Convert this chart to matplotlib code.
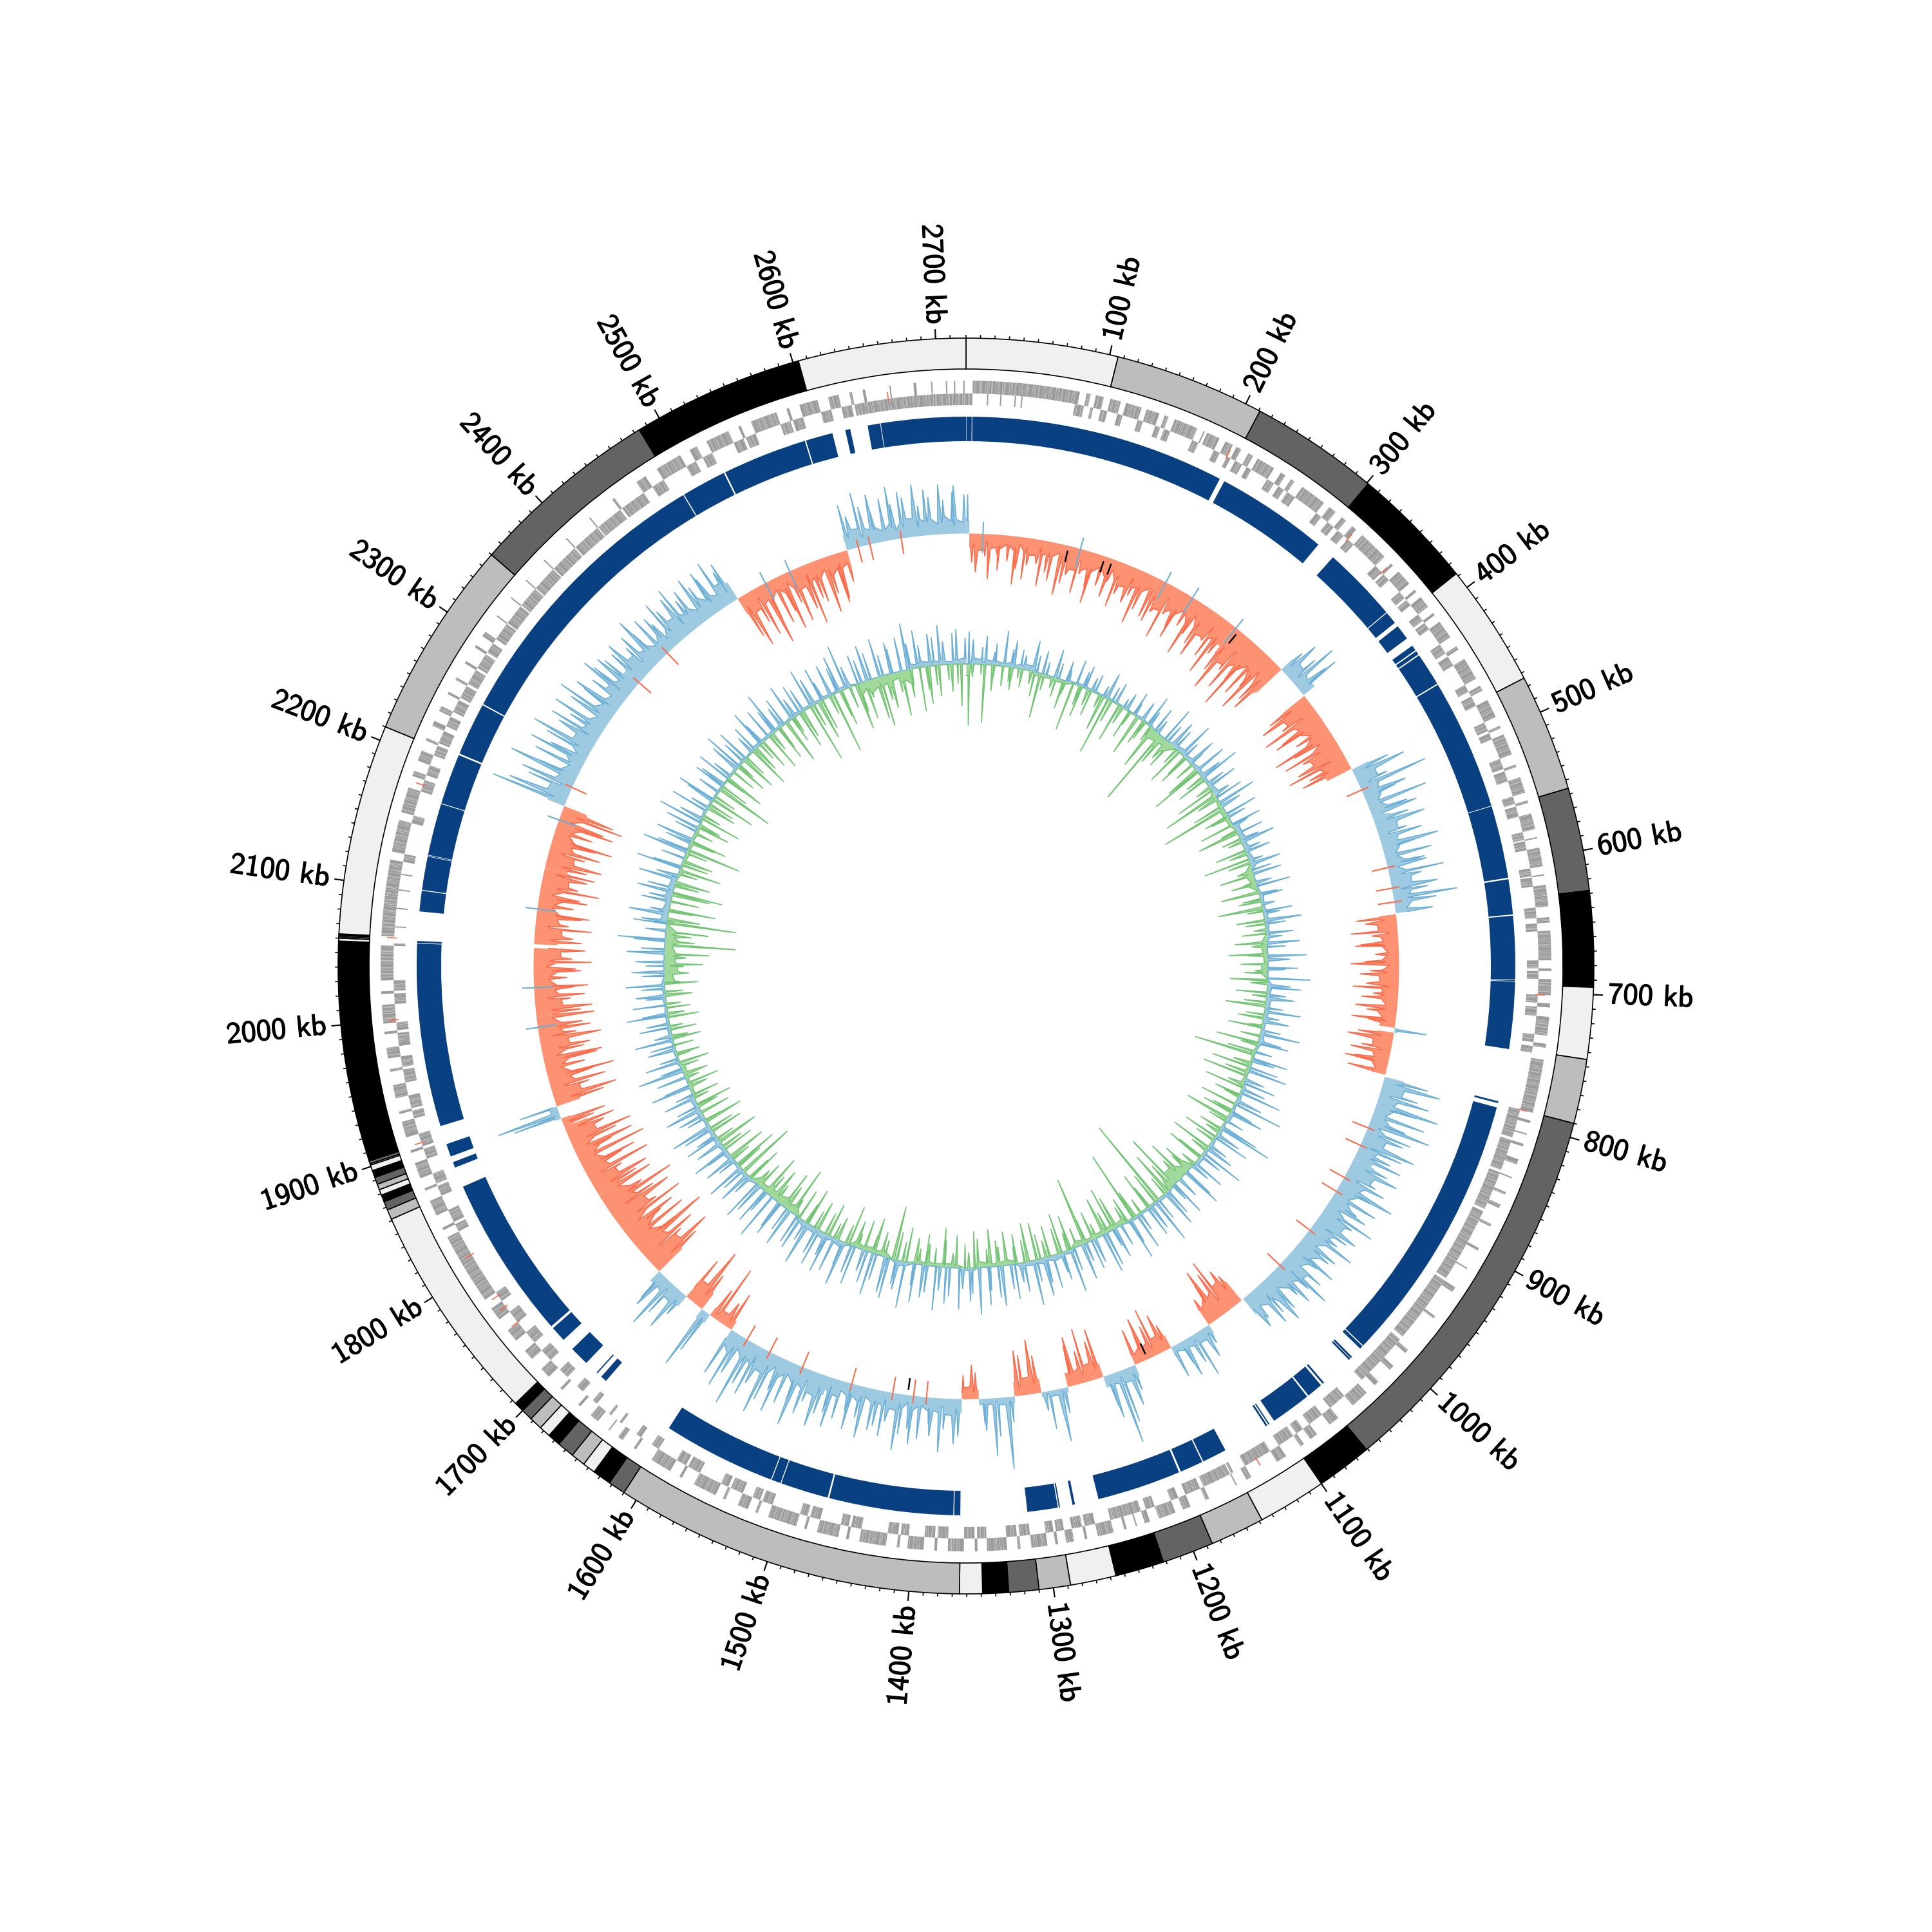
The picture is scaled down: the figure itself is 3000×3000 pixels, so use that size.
#!/usr/bin/env python3

import matplotlib

matplotlib.use("Agg")
import matplotlib.patheffects as pe
import matplotlib.pyplot as plt
import numpy as np

GENOME_KB = 2721.0

ring_edges = [0, 106, 211, 301, 388, 474, 556, 628, 695, 745, 790, 1061, 1100, 1148, 1186, 1222,
              1256, 1288, 1310, 1331, 1349, 1365, 1610, 1622, 1635, 1644, 1654, 1666, 1675, 1683,
              1692, 1700, 1707, 1861, 1868, 1874, 1879, 1883, 1887, 1892, 1897, 1901, 1902, 1904,
              2058, 2060, 2061, 2062, 2063, 2210, 2350, 2484, 2604, 2721]
ring_colors = ["#f0f0f0", "#bdbdbd", "#636363", "#000000"]

block_start = [0.3, 5, 212, 316.8, 378, 391.5, 410.6, 416, 420, 447.5, 552.5, 611.5, 640.5, 691.5,
               692.5, 788, 793, 1011.3, 1023, 1025, 1053, 1056.2, 1070.3, 1107, 1109, 1147.5, 1168,
               1188, 1274, 1286, 1287.8, 1365, 1370.5, 1470.8, 1509.7, 1517.7, 1670, 1679, 1691,
               1716.5, 1731, 1878, 1887.4, 1912.7, 2059, 2083.9, 2101, 2128, 2129, 2171, 2212.7,
               2256, 2487.6, 2524.5, 2593, 2625, 2643, 2653.5]
block_end = [4.5, 208, 301.6, 377.3, 388, 403.6, 415, 419, 446.5, 552, 610.3, 639.5, 691, 692, 746,
             789.5, 1010.5, 1014, 1024.5, 1026.5, 1054.5, 1069, 1102.6, 1108, 1110.5, 1167, 1186.5,
             1255, 1276, 1287, 1312, 1369.8, 1469.5, 1509, 1517, 1608, 1675, 1680, 1706.6, 1729,
             1861.7, 1882.6, 1897.7, 2058.5, 2060.5, 2100.3, 2127.6, 2128.6, 2170.4, 2211.4, 2255,
             2486.8, 2523.3, 2592, 2614.6, 2629, 2653, 2721]

outer_genes = [(5, 85), (90, 93), (97, 103), (108, 116), (120, 132), (136, 146), (150, 153), (158, 176),
               (181, 182), (184, 194), (199, 205), (208, 212), (218, 222), (226, 240), (246, 250),
               (255, 258), (265, 285), (290, 296), (302, 306), (312, 316), (322, 345), (352, 354),
               (360, 372), (378, 380), (385, 394), (400, 402), (408, 422), (430, 433), (441, 458),
               (464, 468), (476, 490), (497, 499), (504, 520), (528, 530), (538, 550), (556, 558),
               (566, 578), (584, 585), (592, 606), (612, 613), (620, 636), (644, 648), (654, 676),
               (682, 684), (690, 702), (708, 711), (718, 732), (738, 741), (750, 790), (796, 798),
               (806, 807), (814, 816), (826, 830), (840, 841), (852, 854), (862, 865), (878, 880),
               (898, 900), (915, 916), (932, 936), (958, 960), (990, 993), (1006, 1010), (1022, 1026),
               (1034, 1048), (1062, 1070), (1082, 1088), (1094, 1097), (1110, 1118), (1140, 1144),
               (1152, 1153), (1175, 1178), (1190, 1196), (1202, 1215), (1222, 1226), (1232, 1233),
               (1240, 1242), (1250, 1262), (1270, 1272), (1280, 1286), (1292, 1294), (1300, 1312),
               (1320, 1322), (1330, 1345), (1352, 1354), (1362, 1374), (1382, 1384), (1392, 1404),
               (1410, 1412), (1420, 1440), (1448, 1450), (1456, 1472), (1480, 1482), (1488, 1510),
               (1518, 1520), (1526, 1534), (1544, 1546), (1552, 1570), (1580, 1582), (1590, 1606),
               (1620, 1622), (1632, 1636), (1644, 1645), (1655, 1662), (1672, 1674), (1690, 1692),
               (1704, 1712), (1722, 1730), (1740, 1750), (1760, 1770), (1778, 1832), (1838, 1840),
               (1850, 1862), (1870, 1872), (1880, 1892), (1900, 1902), (1912, 1924), (1930, 1932),
               (1942, 1952), (1962, 1964), (1972, 1980), (1990, 1992), (1998, 2012), (2020, 2022),
               (2030, 2056), (2063, 2120), (2126, 2150), (2156, 2175), (2184, 2188), (2196, 2204),
               (2212, 2214), (2224, 2228), (2236, 2240), (2250, 2252), (2262, 2264), (2276, 2278),
               (2290, 2292), (2300, 2304), (2318, 2319), (2335, 2336), (2352, 2353), (2372, 2373),
               (2395, 2396), (2418, 2419), (2440, 2442), (2462, 2470), (2480, 2500), (2508, 2514),
               (2522, 2540), (2548, 2550), (2558, 2578), (2586, 2588), (2596, 2610), (2618, 2626),
               (2634, 2636), (2644, 2646), (2664, 2665), (2682, 2684), (2695, 2696), (2706, 2707),
               (2712, 2713), (2719, 2720)]
inner_genes = [(0, 5), (16, 17), (26, 27), (37, 38), (42, 43), (83, 90), (95, 97), (103, 108),
               (116, 120), (132, 136), (146, 150), (153, 158), (176, 181), (194, 199), (205, 208),
               (212, 218), (222, 226), (240, 246), (250, 255), (258, 265), (285, 290), (296, 302),
               (306, 312), (316, 322), (345, 352), (354, 360), (372, 378), (380, 385), (394, 400),
               (402, 408), (422, 430), (433, 441), (458, 464), (468, 476), (490, 497), (499, 504),
               (520, 528), (530, 538), (550, 556), (558, 566), (578, 584), (585, 592), (606, 612),
               (613, 620), (636, 644), (648, 654), (676, 682), (684, 690), (702, 708), (711, 718),
               (732, 738), (741, 746), (790, 812), (814, 838), (840, 870), (872, 930), (932, 985),
               (988, 1030), (1048, 1062), (1070, 1082), (1088, 1094), (1097, 1110), (1118, 1140),
               (1150, 1152), (1153, 1175), (1178, 1190), (1196, 1202), (1215, 1222), (1226, 1250),
               (1262, 1270), (1272, 1280), (1286, 1292), (1294, 1300), (1312, 1320), (1322, 1330),
               (1345, 1352), (1354, 1362), (1374, 1382), (1384, 1392), (1404, 1410), (1412, 1420),
               (1440, 1448), (1450, 1456), (1472, 1480), (1482, 1488), (1510, 1518), (1520, 1526),
               (1534, 1544), (1546, 1552), (1570, 1580), (1582, 1590), (1606, 1612), (1622, 1626),
               (1640, 1642), (1650, 1652), (1664, 1668), (1678, 1684), (1694, 1702), (1712, 1722),
               (1730, 1740), (1750, 1760), (1770, 1778), (1832, 1838), (1840, 1850), (1862, 1870),
               (1872, 1880), (1892, 1900), (1902, 1912), (1924, 1930), (1932, 1942), (1952, 1962),
               (1964, 1972), (1980, 1990), (1992, 1998), (2012, 2020), (2022, 2030), (2056, 2058),
               (2070, 2071), (2084, 2085), (2098, 2099), (2110, 2111), (2120, 2126), (2150, 2156),
               (2175, 2184), (2188, 2196), (2204, 2212), (2214, 2224), (2228, 2236), (2240, 2250),
               (2252, 2262), (2264, 2276), (2278, 2290), (2292, 2300), (2304, 2318), (2319, 2335),
               (2336, 2352), (2353, 2372), (2373, 2395), (2396, 2418), (2419, 2440), (2442, 2462),
               (2470, 2480), (2500, 2508), (2514, 2522), (2540, 2548), (2550, 2558), (2578, 2586),
               (2588, 2596), (2610, 2618), (2626, 2634), (2636, 2721)]
trna_kb = [205, 316, 352, 702, 790, 1130, 1750, 1765, 1775, 1812, 1905, 2000, 2062, 2180, 2662]
# lengths used to walk along a run of genes and mark where one stops
gene_lengths = [1.6, 0.9, 2.3, 1.2, 0.8, 3.1, 1.4, 1.0, 1.9, 0.7, 2.6]

# gc skew style track: regions and the spike heights read inside each of them
skew_start = [0, 3, 100, 200, 290, 353, 388, 476, 530, 628, 742, 747, 792, 880, 1062, 1103, 1147,
              1187, 1221, 1258, 1285, 1312, 1348, 1365, 1500, 1609, 1635, 1645, 1665, 1702, 1800,
              1876, 1885, 1898, 1990, 2063, 2140, 2205, 2350, 2480, 2600]
skew_end = [3, 100, 200, 290, 353, 387, 475, 530, 627, 742, 747, 790, 880, 1060, 1103, 1147, 1187,
            1221, 1258, 1285, 1312, 1348, 1365, 1500, 1609, 1635, 1645, 1665, 1702, 1800, 1876,
            1885, 1898, 1990, 2059, 2140, 2205, 2350, 2480, 2600, 2721]
skew_sign = [1, -1, -1, -1, -1, 1, -1, 1, 1, -1, 1, -1, 1, 1, -1, 1, -1,
             1, -1, 1, -1, 1, -1, 1, 1, -1, 1, -1, 1, -1, -1,
             -1, 1, -1, -1, -1, -1, 1, 1, -1, 1]
skew_band = [20, 22, 30, 38, 50, 22, 42, 28, 28, 25, 5, 25, 30, 36, 38, 15, 22,
             18, 22, 8, 22, 10, 15, 22, 30, 15, 15, 30, 20, 50, 38,
             15, 10, 38, 36, 36, 36, 28, 30, 28, 24]
skew_spikes = [
    [60],
    [45, 60, 35, 70, 30, 55, 40, 75, 50, 65, 42, 38, 72, 48, 60, 80],
    [60, 45, 70, 38, 55, 80, 48, 62, 36, 72, 50, 58, 44, 85, 60, 66],
    [70, 52, 88, 46, 60, 78, 50, 92, 56, 66, 84, 48, 72, 96, 58],
    [80, 110, 66, 96, 72, 118, 86, 64, 104, 78, 92],
    [40, 62, 48, 78, 52, 70],
    [70, 88, 60, 95, 72, 84, 56, 100, 68, 90, 62, 78, 96, 66, 80],
    [60, 84, 48, 110, 70, 52, 96, 60, 74],
    [56, 80, 46, 68, 90, 52, 74, 60, 62, 86, 50, 72, 56, 100, 66, 58],
    [62, 48, 72, 40, 58, 66, 36, 52, 74, 44, 60, 50, 70, 38, 56, 64, 46, 68, 42],
    [50],
    [55, 70, 46, 62, 52, 68, 60],
    [70, 92, 60, 80, 100, 66, 84, 58, 98, 72, 62, 88, 70, 56, 76],
    [60, 80, 52, 70, 92, 56, 74, 48, 66, 86, 54, 72, 60, 50, 82, 64, 56, 76, 48, 68, 90, 58, 72, 52,
     64, 80, 56, 70, 48, 60],
    [50, 64, 90, 72, 84, 60, 44],
    [30, 50, 72, 46, 60, 38, 52],
    [40, 60, 76, 50, 68, 44, 56],
    [40, 62, 84, 116, 70, 50],
    [78, 60, 84, 50, 76, 62],
    [40, 83, 60, 30],
    [58, 84, 62, 70],
    [40, 112, 60, 90, 50, 38],
    [40, 52, 36],
    [58, 70, 48, 84, 60, 42, 66, 76, 52, 62, 88, 46, 70, 56, 64, 80, 50, 72, 44, 60, 78, 56],
    [62, 84, 50, 72, 96, 58, 68, 88, 54, 76, 100, 60, 82, 70, 108, 64, 90, 78],
    [60, 40, 92, 50],
    [70, 100],
    [60, 98, 72],
    [40, 70, 56, 84, 60, 48],
    [84, 110, 70, 96, 124, 76, 100, 66, 90, 112, 72, 104, 80, 118, 68, 92],
    [70, 92, 56, 104, 66, 88, 110, 60, 96, 74, 100, 62, 80],
    [50, 70],
    [75, 100, 60],
    [78, 100, 60, 88, 70, 105, 62, 84, 92, 66, 76, 96, 58, 82, 70, 90],
    [70, 88, 56, 78, 62, 84, 52, 74, 66, 90, 60, 80],
    [74, 60, 88, 52, 70, 82, 56, 76, 64, 92, 58, 70, 80],
    [66, 88, 58, 80, 70, 96, 60, 90, 74, 100, 84],
    [120, 96, 70, 84, 110, 62, 78, 92, 60, 74, 100, 66, 82, 56, 88, 70, 94, 60, 76, 58, 84, 68, 72, 62],
    [60, 72, 50, 66, 84, 56, 70, 62, 48, 76, 58, 68, 80, 52, 64, 74, 56, 72, 60, 78, 54, 66],
    [70, 88, 56, 80, 100, 62, 74, 60, 90, 52, 84, 70, 96, 58, 66, 88, 60, 78, 72, 50],
    [70, 50, 84, 60, 76, 48, 66, 82, 54, 72, 62, 80, 46, 70, 58, 76, 52, 64, 74, 60],
]
skew_thin_red = [499, 581, 602, 616, 846, 865, 901, 917, 964, 1010, 1400, 1413, 1434, 1476, 1528, 1564,
                 1590, 2225, 2350, 2391, 2612, 2624, 2656]
skew_thin_blue = [17, 116, 208, 239, 292, 1979, 2019, 2098, 2190, 2512, 2539]
skew_black = [104, 142, 150, 296, 1173, 1419]

# inner track, one height per window around the circle
inner_up = [50, 38, 26, 44, 20, 34, 55, 28, 42, 30, 22, 48, 26, 36, 20, 44, 24, 32, 18, 40,
            26, 36, 22, 30, 18, 42, 24, 34, 16, 28, 38, 20, 32, 50, 26, 40, 22, 56, 30, 44,
            34, 58, 28, 46, 24, 52, 36, 64, 30, 48, 26, 44, 60, 32, 50, 28, 46, 24, 42, 30,
            54, 26, 40, 22, 48, 30, 44, 24, 52, 28, 36, 20, 46, 26, 58, 32, 42, 24, 50, 28,
            60, 34, 46, 26, 66, 36, 52, 30, 44, 28, 56, 24, 40, 30, 62, 36, 48, 26, 54, 34,
            44, 60, 30, 50, 38, 66, 42, 78, 36, 54, 30, 62, 86, 40, 58, 32, 46, 70, 36, 52,
            30, 48, 64, 34, 56, 28, 44, 60, 36, 72, 42, 50, 30, 58, 40, 66, 34, 48, 28, 54,
            62, 38, 46, 30, 56, 36, 68, 44, 32, 52, 40, 60, 34, 70, 46, 30, 54, 38, 62, 48,
            36, 58, 72, 40, 52, 32, 64, 44, 56, 36, 68, 42, 50, 60, 34, 72, 46, 38, 64, 56,
            40, 66, 50, 34, 60, 44, 70, 38, 54, 62, 36, 58, 42, 68, 32, 52, 46, 60, 38, 56,
            44, 74, 36, 58, 48, 66, 32, 54, 40, 62, 30, 50, 36, 60, 44, 54, 34, 48, 66, 30,
            42, 58, 36, 50, 28, 62, 40, 46, 72, 34, 54, 30, 44, 38, 60, 28, 48, 36, 64, 40,
            52, 30, 46, 36, 60, 34, 50, 28, 44, 58, 36, 48, 73, 32, 52, 40, 62, 30, 46, 36,
            56, 42, 60, 34, 70, 44, 36, 71, 48, 40, 58, 34, 52, 69, 38, 60, 30, 46, 62, 36,
            50, 42, 56, 32, 48, 64, 38, 54, 30, 44, 60, 36, 50, 40, 68, 34, 46, 58, 32, 48,
            38, 62, 44, 54, 30, 50, 40, 58, 70, 34, 46, 36, 56, 42, 60, 32, 48, 38, 52, 72,
            40, 58, 34, 50, 44, 62, 36, 48, 54, 40]
inner_down = [95, 20, 15, 90, 40, 18, 30, 22, 35, 15, 28, 20, 38, 70, 25, 18, 30, 45, 22, 75,
              30, 48, 25, 40, 20, 55, 91, 35, 60, 28, 45, 22, 65, 40, 30, 25, 70, 126, 50, 35,
              45, 28, 60, 35, 50, 30, 55, 83, 30, 48, 25, 62, 90, 35, 50, 106, 40, 30, 55, 25,
              65, 30, 22, 48, 28, 72, 35, 25, 55, 20, 40, 60, 28, 35, 70, 24, 44, 30, 18, 38,
              50, 24, 60, 30, 42, 20, 36, 58, 26, 48, 22, 34, 62, 28, 40, 20, 52, 30, 66, 26,
              44, 96, 30, 62, 38, 72, 26, 61, 40, 24, 56, 32, 46, 70, 28, 36, 22, 54, 30, 64,
              26, 42, 58, 24, 48, 34, 66, 38, 92, 44, 70, 30, 143, 50, 36, 60, 24, 44, 113, 40,
              28, 52, 70, 34, 60, 24, 46, 38, 107, 30, 54, 28, 62, 40, 48, 26, 38, 58, 60, 34,
              46, 26, 52, 30, 40, 58, 28, 44, 56, 24, 36, 50, 22, 42, 60, 28, 34, 48, 24, 40,
              54, 30, 44, 83, 26, 38, 56, 28, 48, 22, 42, 62, 30, 36, 24, 52, 34, 46, 28, 58,
              32, 48, 26, 77, 40, 60, 30, 52, 36, 66, 44, 28, 56, 38, 91, 42, 70, 30, 60, 48,
              34, 66, 28, 50, 38, 60, 26, 46, 32, 56, 24, 42, 30, 50, 22, 38, 28, 46, 20, 36,
              30, 44, 24, 40, 20, 48, 26, 36, 22, 42, 28, 52, 24, 38, 30, 60, 34, 70, 110, 46,
              40, 66, 108, 50, 36, 72, 44, 60, 78, 38, 54, 30, 66, 42, 48, 34, 87, 40, 58, 30,
              52, 36, 64, 28, 46, 40, 70, 34, 90, 44, 30, 62, 38, 50, 26, 56, 34, 66, 42, 28,
              48, 60, 30, 54, 36, 70, 40, 26, 58, 44, 92, 36, 62, 48, 30, 95, 42, 56, 34, 72,
              46, 60, 28, 66, 79, 40, 54, 32, 70, 44, 26, 68, 36, 58, 30, 48, 24, 42, 30, 65]
band_start = [0, 8, 95, 150, 290, 325, 420, 470, 540, 570, 640, 700, 800, 860, 990, 1040, 1120, 1200,
              1290, 1345, 1370, 1440, 1470, 1530, 1620, 1700, 1850, 1900, 2020, 2100, 2170, 2260,
              2380, 2560, 2640]
band_end = [8, 95, 150, 290, 325, 420, 470, 540, 570, 640, 700, 800, 860, 990, 1040, 1120, 1200, 1290,
            1345, 1370, 1440, 1470, 1530, 1620, 1700, 1850, 1900, 2020, 2100, 2170, 2260, 2380,
            2560, 2640, 2721]
band_sign = [-1, 1, -1, 1, -1, 1, -1, 1, -1, 1, -1, 1, -1, 1, -1, 1, -1, 1,
             -1, 1, -1, 1, -1, 1, -1, 1, -1, 1, -1, 1, -1, 1, 1, -1, 1]
band_size = [18, 7, 5, 3, 18, 7, 6, 8, 12, 5, 10, 7, 5, 5, 20, 4, 8, 8,
             8, 6, 5, 7, 8, 8, 14, 7, 5, 4, 18, 10, 5, 3, 4, 18, 8]

major_kb = list(range(100, 2800, 100))

# spike placement inside a window, so the comb is not regular
spike_shift = [0.0, -0.32, 0.26, -0.1, 0.36, -0.42, 0.16, 0.41, -0.22, 0.05, -0.36, 0.3, -0.05]
spike_width = [0.24, 0.42, 0.18, 0.32, 0.46, 0.22, 0.3]
valley_scale = [1.0, 0.7, 1.15, 0.55, 0.9, 1.2, 0.65, 1.05, 0.8]


def kb2theta(kb):
    return np.asarray(kb, dtype=float) / GENOME_KB * 2 * np.pi


def arcBars(ax, start, end, r0, r1, color, **kwargs):
    start = np.asarray(start, dtype=float)
    end = np.asarray(end, dtype=float)
    ax.bar(kb2theta((start + end) / 2), r1 - r0, width=kb2theta(end - start), bottom=r0,
           color=color, align="center", **kwargs)


def spikePolyline(start, end, heights, floor, narrow):
    n = len(heights)
    w = (end - start) / n
    xs = [start]
    ys = [floor[0]]
    for i, h in enumerate(heights):
        p = start + (i + 0.5 + spike_shift[i % 13]) * w
        p = min(max(p, start + 0.3), end - 0.3)
        hw = spike_width[i % 7] * w * narrow
        f = floor[i]
        xs += [p - hw, p, p + hw]
        ys += [f * valley_scale[i % 9], max(h, f), f * valley_scale[(i + 4) % 9]]
    xs.append(end)
    ys.append(floor[-1])
    xs = np.array(xs).clip(start, end)
    return xs, np.array(ys, dtype=float)


def drawSkew(ax):
    base = 672
    for s, e, sg, b, spikes in zip(skew_start, skew_end, skew_sign, skew_band, skew_spikes):
        xs, ys = spikePolyline(s, e, spikes, [b] * len(spikes), 0.8)
        theta = kb2theta(xs)
        r = base + sg * ys
        fill = "#9ecae1" if sg > 0 else "#fc9272"
        line = "#6baed6" if sg > 0 else "#fb6a4a"
        ax.fill_between(theta, base, r, color=fill, linewidth=0)
        ax.plot(theta[1:-1], r[1:-1], color=line, lw=0.4)
    ax.vlines(kb2theta(skew_thin_red), base - 25, base + 12, color="#fb6a4a", lw=0.5)
    ax.vlines(kb2theta(skew_thin_blue), base - 30, base + 18, color="#6baed6", lw=0.5)
    ax.vlines(kb2theta(skew_black), base - 26, base - 8, color="black", lw=0.6)


def drawInner(ax):
    base = 469
    for values, wanted, sign, fill, line in [
        (inner_up, 1, 1, "#9ecae1", "#6baed6"),
        (inner_down, -1, -1, "#a1d99b", "#74c476"),
    ]:
        step = GENOME_KB / len(values)
        floor = []
        for i in range(len(values)):
            j = np.searchsorted(band_end, (i + 0.5) * step)
            floor.append(band_size[j] if band_sign[j] == wanted else 0)
        xs, ys = spikePolyline(0.0, GENOME_KB, values, floor, 0.55)
        theta = kb2theta(xs)
        r = base + sign * ys
        ax.fill_between(theta, base, r, color=fill, linewidth=0)
        ax.plot(theta, r, color=line, lw=0.4)


def drawGenes(ax, genes, r0, r1):
    spans = np.array(genes, dtype=float)
    arcBars(ax, spans[:, 0], spans[:, 1], r0, r1, "#9c9c9c", linewidth=0)
    seps = []
    k = 0
    for s, e in genes:
        p = s + gene_lengths[k % 11]
        while p < e:
            seps.append(p)
            k += 1
            p += gene_lengths[k % 11]
    ax.vlines(kb2theta(seps), r0, r1, color="white", lw=0.08)


def labelTicks(ax):
    ax.vlines(kb2theta(np.arange(0, 2720, 10)), 975, 980, color="black", lw=0.4)
    ax.vlines(kb2theta(major_kb), 975, 990, color="black", lw=0.5)
    stroke = [pe.withStroke(linewidth=0.3, foreground="black")]
    for kb in major_kb:
        deg = kb / GENOME_KB * 360
        txt = "%d kb" % kb
        if deg < 180:
            ax.text(kb2theta(kb), 998, txt, rotation=90 - deg, ha="left", va="center",
                    rotation_mode="anchor", fontsize=11.2, family="cmss10", path_effects=stroke)
        else:
            ax.text(kb2theta(kb), 998, txt, rotation=270 - deg, ha="right", va="center",
                    rotation_mode="anchor", fontsize=11.2, family="cmss10", path_effects=stroke)


if __name__ == "__main__":
    fig = plt.figure(figsize=(10, 10), dpi=300)
    ax = fig.add_axes([0, 0, 1, 1], projection="polar")
    ax.set_theta_zero_location("N")
    ax.set_theta_direction(-1)
    ax.set_rlim(0, 1500)
    ax.axis("off")

    colors = [ring_colors[i % 4] for i in range(len(ring_edges) - 1)]
    arcBars(ax, ring_edges[:-1], ring_edges[1:], 927, 975, colors, edgecolor="black", linewidth=0.4)
    labelTicks(ax)

    drawGenes(ax, outer_genes, 889, 909)
    drawGenes(ax, inner_genes, 871, 889)
    ax.vlines(kb2theta(trna_kb), 885, 900, color="#fb6a4a", lw=0.4)

    arcBars(ax, block_start, block_end, 815, 853, "#084081", linewidth=0)

    drawSkew(ax)
    drawInner(ax)

    ax.set_rlim(0, 1500)
    fig.savefig("out.png", dpi=300)
    plt.close()
